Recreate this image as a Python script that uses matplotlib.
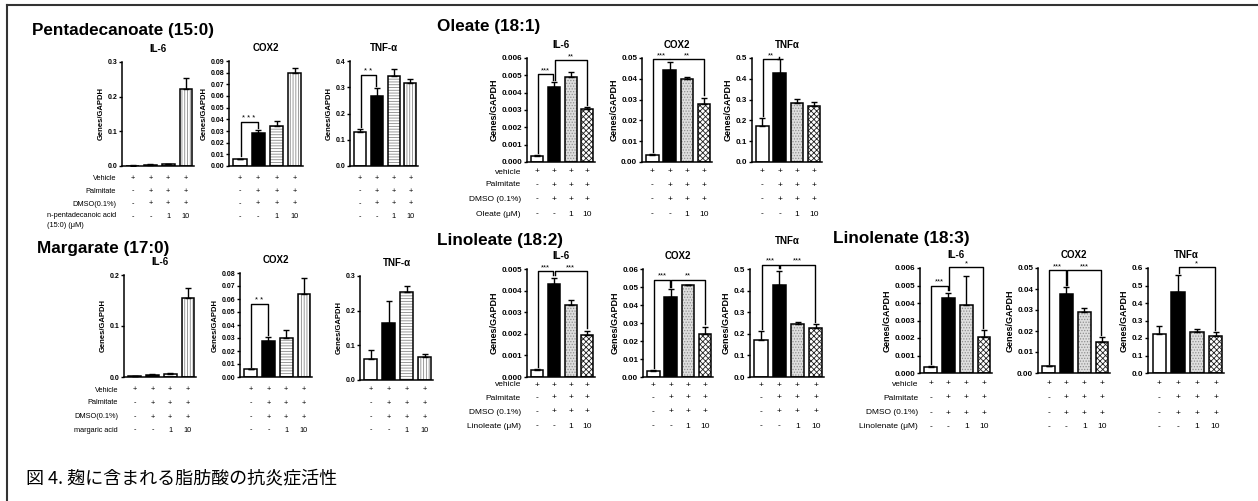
import numpy as np
import matplotlib.pyplot as plt
from matplotlib.lines import Line2D
from matplotlib.transforms import blended_transform_factory

plt.rcParams['font.family'] = ['Liberation Sans', 'DejaVu Sans']
plt.rcParams['hatch.linewidth'] = 0.6

W, H = 1258, 501

# ---- values (mean, upper SEM) ----
# Pentadecanoate (15:0)
pd_il6 = [0.001, 0.004, 0.006, 0.222]
pd_il6_err = [0.0005, 0.001, 0.001, 0.033]
pd_cox2 = [0.006, 0.028, 0.034, 0.080]
pd_cox2_err = [0.0004, 0.0025, 0.005, 0.004]
pd_tnf = [0.130, 0.268, 0.343, 0.318]
pd_tnf_err = [0.012, 0.030, 0.028, 0.012]

# Margarate (17:0)
mg_il6 = [0.001, 0.004, 0.006, 0.155]
mg_il6_err = [0.0005, 0.001, 0.001, 0.020]
mg_cox2 = [0.006, 0.028, 0.030, 0.064]
mg_cox2_err = [0.0004, 0.0025, 0.006, 0.012]
mg_tnf = [0.062, 0.163, 0.253, 0.065]
mg_tnf_err = [0.025, 0.065, 0.018, 0.010]

# Oleate (18:1)
ol_il6 = [0.00035, 0.00432, 0.00488, 0.00303]
ol_il6_err = [0.00003, 0.00028, 0.00030, 0.00015]
ol_cox2 = [0.0035, 0.0443, 0.0400, 0.0278]
ol_cox2_err = [0.0003, 0.0040, 0.0008, 0.0032]
ol_tnf = [0.175, 0.428, 0.285, 0.270]
ol_tnf_err = [0.038, 0.065, 0.018, 0.018]

# Linoleate (18:2)
la_il6 = [0.00033, 0.00432, 0.00335, 0.00195]
la_il6_err = [0.00003, 0.00028, 0.00020, 0.00020]
la_cox2 = [0.0035, 0.0445, 0.0510, 0.0240]
la_cox2_err = [0.0003, 0.0045, 0.0003, 0.0040]
la_tnf = [0.173, 0.428, 0.245, 0.226]
la_tnf_err = [0.040, 0.065, 0.010, 0.018]

# Linolenate (18:3)
ln_il6 = [0.00035, 0.00430, 0.00390, 0.00205]
ln_il6_err = [0.00005, 0.00030, 0.00165, 0.00040]
ln_cox2 = [0.0033, 0.0377, 0.0290, 0.0150]
ln_cox2_err = [0.0002, 0.0033, 0.0020, 0.0020]
ln_tnf = [0.225, 0.465, 0.237, 0.210]
ln_tnf_err = [0.045, 0.095, 0.012, 0.022]

# significance brackets: (bar i, bar j, bracket level, stars)
pd_cox2_sig = [(0, 1, 0.038, '* * *')]
pd_tnf_sig = [(0, 1, 0.345, '* *')]
mg_cox2_sig = [(0, 1, 0.056, '* *')]
ol_il6_sig = [(0, 1, 0.00506, '***'), (1, 3, 0.00587, '**')]
ol_cox2_sig = [(0, 1, 0.0494, '***'), (1, 3, 0.0494, '**')]
ol_tnf_sig = [(0, 1, 0.494, '**')]
la_il6_sig = [(0, 1, 0.00489, '***'), (1, 3, 0.00489, '***')]
la_cox2_sig = [(0, 1, 0.054, '***'), (1, 3, 0.054, '**')]
la_tnf_sig = [(0, 1, 0.52, '***'), (1, 3, 0.52, '***')]
ln_il6_sig = [(0, 1, 0.00499, '***'), (1, 3, 0.00606, '*')]
ln_cox2_sig = [(0, 1, 0.0489, '***'), (1, 3, 0.0489, '***')]
ln_tnf_sig = [(1, 3, 0.606, '*')]

# treatment table under each panel
vehicle = ['+', '+', '+', '+']
palmitate = ['-', '+', '+', '+']
dmso = ['-', '+', '+', '+']
dose = ['-', '-', '1', '10']

# fill patterns per bar: (facecolor, hatch, hatch colour)
style_lines = [('white', None, 'black'), ('black', None, 'black'),
               ('white', '------', '#8a8a8a'), ('white', '||||||', '#8a8a8a')]
style_checks = [('white', None, 'black'), ('black', None, 'black'),
                ('#dedede', '......', '#8f8f8f'), ('white', 'xxxxxx', '#222222')]

fig = plt.figure(figsize=(W / 100, H / 100), dpi=100)


def px_axes(l, t, r, b):
    return fig.add_axes([l / W, 1 - b / H, (r - l) / W, (b - t) / H])


def panel(box, title, means, errs, top, step, dec, sigs, style, fs=5, lfs=5.5, tpad=7):
    ax = px_axes(*box)
    x = np.arange(len(means))
    for k in range(len(means)):
        fc, hatch, hc = style[k]
        ax.bar(x[k], means[k], 0.72, color=fc, hatch=hatch, edgecolor=hc,
               linewidth=0, zorder=2)
        ax.bar(x[k], means[k], 0.72, fill=False, edgecolor='black',
               linewidth=1.1, zorder=3)
    ax.errorbar(x, means, yerr=[np.zeros(len(errs)), errs], fmt='none',
                ecolor='black', elinewidth=1, capsize=2, capthick=1, zorder=4)

    ax.set_xlim(-0.6, 3.45)
    ax.set_ylim(0, top)
    ticks = np.arange(0, top + step / 2, step)
    ax.set_yticks(ticks)
    ax.set_yticklabels([f'{v:.{dec}f}' for v in ticks], fontsize=fs,
                       fontweight='bold')
    ax.set_xticks([])
    ax.tick_params(axis='y', length=2.5, width=1, pad=1)
    for s in ['top', 'right']:
        ax.spines[s].set_visible(False)
    for s in ['left', 'bottom']:
        ax.spines[s].set_linewidth(1.1)
    ax.set_ylabel('Genes/GAPDH', fontsize=lfs, fontweight='bold', labelpad=2)
    ax.set_title(title, fontsize=7, fontweight='bold', pad=tpad)

    tops = [m + e for m, e in zip(means, errs)]
    for i, j, lev, lab in sigs:
        xi, xj = i + 0.04, j - 0.04
        ax.plot([xi, xi, xj, xj], [tops[i] + 0.02 * top, lev, lev, tops[j] + 0.02 * top],
                color='black', lw=1, clip_on=False, zorder=5)
        ax.text((i + j) / 2, lev, lab, ha='center', va='bottom', fontsize=5.5,
                clip_on=False)
    return ax


def table(ax, row_ys, labels=None, label_x=None, fs=5.3):
    tr = blended_transform_factory(ax.transData, fig.transFigure)
    rows = [vehicle, palmitate, dmso, dose]
    for row, y in zip(rows, row_ys):
        for k, m in enumerate(row):
            ax.text(k, 1 - y / H, m, transform=tr, ha='center', va='center',
                    fontsize=fs)
    if labels:
        for lab, y in zip(labels, row_ys):
            va = 'top' if '\n' in lab else 'center'
            yy = y - 5 if '\n' in lab else y
            fig.text(label_x / W, 1 - yy / H, lab, ha='right', va=va,
                     multialignment='left', fontsize=fs, linespacing=1.5)


def group_title(x, y, text):
    fig.text(x / W, 1 - y / H, text, fontsize=12.3, fontweight='bold', va='center')


# ---- Pentadecanoate (15:0) ----
group_title(32, 30, 'Pentadecanoate (15:0)')
rows15 = [178, 191, 204, 217]
a = panel((122, 62, 194, 166), 'IL-6', pd_il6, pd_il6_err, 0.3, 0.1, 1, [],
          style_lines)
table(a, rows15, ['Vehicle', 'Palmitate', 'DMSO(0.1%)',
                  'n-pentadecanoic acid\n(15:0) (\u03bcM)'], 116)
a = panel((229, 61, 303, 166), 'COX2', pd_cox2, pd_cox2_err, 0.09, 0.01, 2,
          pd_cox2_sig, style_lines)
table(a, rows15)
a = panel((350, 61, 418, 166), 'TNF-\u03b1', pd_tnf, pd_tnf_err, 0.4, 0.1, 1,
          pd_tnf_sig, style_lines)
table(a, rows15)

# ---- Margarate (17:0) ----
group_title(37, 248, 'Margarate (17:0)')
rows17 = [390, 403, 417, 430]
a = panel((124, 275, 196, 377), 'IL-6', mg_il6, mg_il6_err, 0.2, 0.1, 1, [],
          style_lines)
table(a, rows17, ['Vehicle', 'Palmitate', 'DMSO(0.1%)', 'margaric acid'], 118)
a = panel((240, 273, 312, 377), 'COX2', mg_cox2, mg_cox2_err, 0.08, 0.01, 2,
          mg_cox2_sig, style_lines)
table(a, rows17)
a = panel((360, 276, 433, 380), 'TNF-\u03b1', mg_tnf, mg_tnf_err, 0.3, 0.1, 1,
          [], style_lines)
table(a, rows17)

# ---- Oleate (18:1) ----
group_title(437, 26, 'Oleate (18:1)')
rows181 = [172, 185, 199, 214]
a = panel((527, 58, 595, 162), 'IL-6', ol_il6, ol_il6_err, 0.006, 0.001, 3,
          ol_il6_sig, style_checks, 5.8, 6.5)
table(a, rows181, ['vehicle', 'Palmitate', 'DMSO (0.1%)', 'Oleate (\u03bcM)'], 521, 6)
a = panel((642, 58, 712, 162), 'COX2', ol_cox2, ol_cox2_err, 0.05, 0.01, 2,
          ol_cox2_sig, style_checks, 5.8, 6.5)
table(a, rows181, fs=6)
a = panel((752, 58, 822, 162), 'TNF\u03b1', ol_tnf, ol_tnf_err, 0.5, 0.1, 1,
          ol_tnf_sig, style_checks, 5.8, 6.5)
table(a, rows181, fs=6)

# ---- Linoleate (18:2) ----
group_title(437, 240, 'Linoleate (18:2)')
rows182 = [385, 398, 412, 426]
a = panel((527, 269, 595, 377), 'IL-6', la_il6, la_il6_err, 0.005, 0.001, 3,
          la_il6_sig, style_checks, 5.8, 6.5)
table(a, rows182, ['vehicle', 'Palmitate', 'DMSO (0.1%)', 'Linoleate (\u03bcM)'], 521, 6)
a = panel((643, 269, 713, 377), 'COX2', la_cox2, la_cox2_err, 0.06, 0.01, 2,
          la_cox2_sig, style_checks, 5.8, 6.5)
table(a, rows182, fs=6)
a = panel((750, 269, 824, 377), 'TNF\u03b1', la_tnf, la_tnf_err, 0.5, 0.1, 1,
          la_tnf_sig, style_checks, 5.8, 6.5, tpad=18)
table(a, rows182, fs=6)

# ---- Linolenate (18:3) ----
group_title(833, 238, 'Linolenate (18:3)')
rows183 = [384, 398, 413, 427]
a = panel((920, 268, 992, 373), 'IL-6', ln_il6, ln_il6_err, 0.006, 0.001, 3,
          ln_il6_sig, style_checks, 5.8, 6.5)
table(a, rows183, ['vehicle', 'Palmitate', 'DMSO (0.1%)', 'Linolenate (\u03bcM)'], 918, 6)
a = panel((1038, 268, 1110, 373), 'COX2', ln_cox2, ln_cox2_err, 0.05, 0.01, 2,
          ln_cox2_sig, style_checks, 5.8, 6.5)
table(a, rows183, fs=6)
a = panel((1148, 268, 1224, 373), 'TNF\u03b1', ln_tnf, ln_tnf_err, 0.6, 0.1, 1,
          ln_tnf_sig, style_checks, 5.8, 6.5)
table(a, rows183, fs=6)

# frame lines and caption
fig.add_artist(Line2D([7 / W, 1], [1 - 5 / H, 1 - 5 / H], color='#333333', lw=1.5))
fig.add_artist(Line2D([7 / W, 7 / W], [0, 1 - 5 / H], color='#333333', lw=1.5))
fig.text(26 / W, 1 - 478 / H, '図 4. 麹に含まれる脂肪酸の抗炎症活性', fontsize=13,
         family=['Noto Sans CJK JP', 'DejaVu Sans'], va='center')

fig.savefig('out.png', dpi=100)
